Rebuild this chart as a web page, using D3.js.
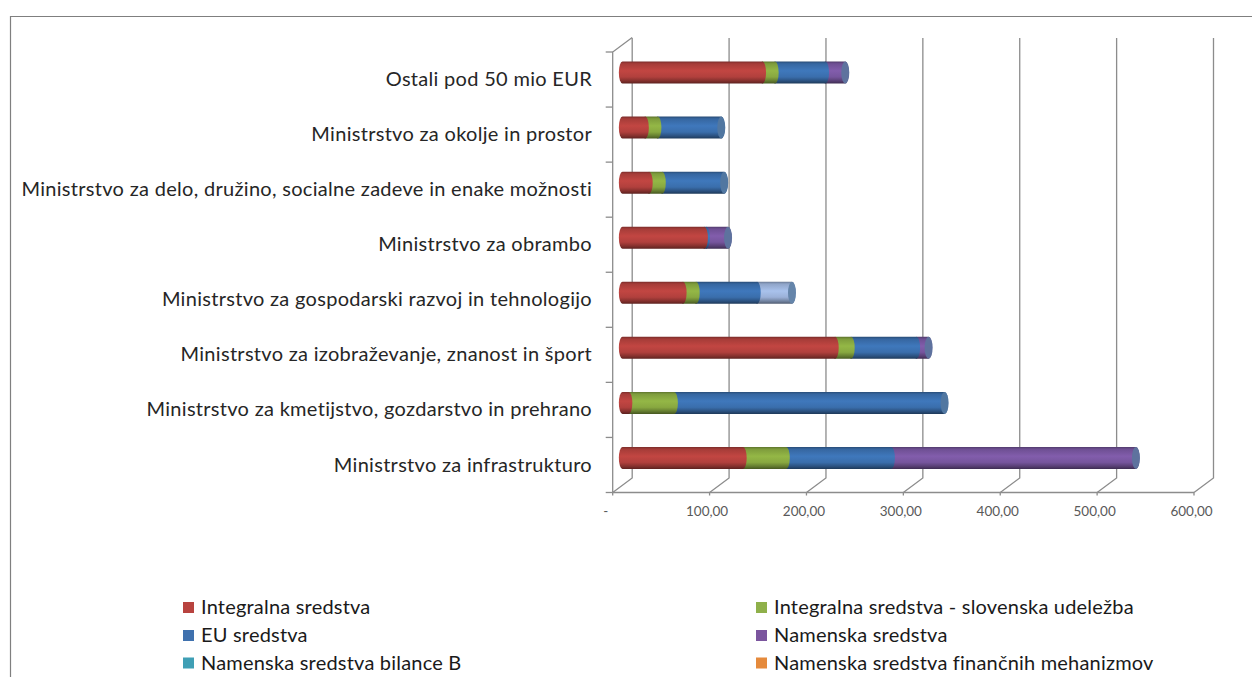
<!DOCTYPE html>
<html><head><meta charset="utf-8">
<script src="https://cdn.jsdelivr.net/npm/d3@7"></script>
<style>html,body{margin:0;padding:0;background:#fff;overflow:hidden}svg{display:block}</style>
</head><body><svg id="c" width="1252" height="677"></svg>
<script>
const categories = ["Ministrstvo za infrastrukturo","Ministrstvo za kmetijstvo, gozdarstvo in prehrano","Ministrstvo za izobraževanje, znanost in šport","Ministrstvo za gospodarski razvoj in tehnologijo","Ministrstvo za obrambo","Ministrstvo za delo, družino, socialne zadeve in enake možnosti","Ministrstvo za okolje in prostor","Ostali pod 50 mio EUR"];
const integralna = [124.5,6.5,219.5,62.5,84.5,27.5,23.5,144.5];
const slovenska  = [44.5,47,16.5,13.5,0,13.5,13,13];
const eu         = [108.5,279,67.5,63,2,64,65.5,52];
const namenska   = [252.5,0,12.5,0,22.5,0,0,20.5];
const bilanceB   = [0,0,0,0,0,0,0,0];
const mehanizmi  = [0,0,0,0,0,0,0,0];
const ostalo     = [0,0,0,36,0,0,0,0];
const seriesNames = ["Integralna sredstva","Integralna sredstva - slovenska udeležba","EU sredstva","Namenska sredstva","Namenska sredstva bilance B","Namenska sredstva finančnih mehanizmov","Ostalo"];
const seriesValues = [integralna,slovenska,eu,namenska,bilanceB,mehanizmi,ostalo];
const seriesColors = ["#bb4440","#8fb144","#3d74b5","#7d5aa6","#4bacc6","#f0903c","#a3bbe4"];
const legendColors = ["#b8433f","#8fb04a","#3f71ae","#7b559e","#3f9fb5","#e58a3c"];
const legendCount = 6;
const xTicks = [0,100,200,300,400,500,600];
const xTickLabels = ["-","100,00","200,00","300,00","400,00","500,00","600,00"];

const svg = d3.select("#c");
const x = d3.scaleLinear().domain([0,600]).range([612.7,1194]);
const y = d3.scaleBand().domain(categories).range([492.5,52]);
const dx = 19.5, dy = 14.5;
const grid = "#8c8c8c";

svg.append("path").attr("d","M10.5,677V16.5H1252").attr("fill","none").attr("stroke","#7f7f7f").attr("stroke-width",1.2);

const walls = svg.append("g").attr("fill","none").attr("stroke",grid).attr("stroke-width",1.3);
walls.selectAll("path.g").data(xTicks).join("path").attr("class","g")
  .attr("d",d=>`M${x(d)},492.5l0,3M${x(d)},492.5l${dx},${-dy}V38`);
walls.append("path").attr("d",`M${x(0)},492.5H${x(600)}`);
walls.append("path").attr("d",`M${x(0)},492.5V52l${dx},${-dy}`);
walls.selectAll("path.t").data(d3.range(9)).join("path").attr("class","t")
  .attr("d",i=>`M${x(0)-7},${492.5-i*y.step()}H${x(0)}`);

const defs = svg.append("defs");
function shade(c,k){return k<0?d3.color(c).darker(-k).formatHex():d3.color(c).brighter(k).formatHex();}
seriesColors.forEach((c,i)=>{
  const g = defs.append("linearGradient").attr("id","g"+i).attr("x1",0).attr("x2",0).attr("y1",0).attr("y2",1);
  [[0,-1.2],[.1,-.35],[.42,.1],[.7,-.15],[.88,-1.0],[1,-2.0]].forEach(([o,k])=>
    g.append("stop").attr("offset",o).attr("stop-color",shade(c,k)));
});

const barH = 22, rx = 3.6, ry = barH/2, ox = dx/2, oy = -7;
const gBars = svg.append("g");
categories.forEach((cat,ci)=>{
  const top = y(cat)+y.bandwidth()/2+oy-barH/2;
  let acc = 0;
  const segs = [];
  seriesValues.forEach((s,si)=>{ if(s[ci]>0){segs.push({si,a:acc,b:acc+s[ci]}); acc+=s[ci];} });
  const g = gBars.append("g");
  g.selectAll("path").data(segs.slice().reverse()).join("path")
    .attr("fill",d=>`url(#g${d.si})`)
    .attr("d",d=>{
      const x0=x(d.a)+ox, x1=x(d.b)+ox;
      return `M${x0},${top}A${rx},${ry} 0 0 0 ${x0},${top+barH}L${x1},${top+barH}A${rx},${ry} 0 0 0 ${x1},${top}Z`;
    });
  g.append("ellipse").attr("cx",x(acc)+ox).attr("cy",top+ry).attr("rx",rx+.4).attr("ry",ry)
    .attr("fill",d3.interpolateRgb(seriesColors[segs[segs.length-1].si],"#56789c")(.8));
});

svg.append("g").selectAll("text").data(xTicks).join("text")
  .attr("x",d=>d===0?x(d)-7:x(d)-2.5).attr("y",513).attr("text-anchor","middle").attr("dominant-baseline","middle")
  .attr("font-family","Lato").attr("font-size",13.5).attr("fill","#595959")
  .text((d,i)=>xTickLabels[i]);
svg.append("g").selectAll("text").data(categories).join("text")
  .attr("x",592).attr("y",d=>y(d)+y.bandwidth()/2+1.5).attr("text-anchor","end").attr("dominant-baseline","middle")
  .attr("font-family","Lato").attr("font-size",20).attr("letter-spacing",.3).attr("fill","#262626")
  .text(d=>d);

const rowY = d3.scaleOrdinal().domain([0,1,2]).range([607.5,635.5,663]);
const colX = [183,756];
const leg = svg.append("g").selectAll("g").data(seriesNames.slice(0,legendCount)).join("g")
  .attr("transform",(d,i)=>`translate(${colX[i%2]},${rowY(Math.floor(i/2))})`);
leg.append("rect").attr("x",0).attr("y",-5.5).attr("width",11).attr("height",11)
  .attr("fill",(d,i)=>legendColors[i]);
leg.append("text").attr("x",18).attr("y",1.5).attr("dominant-baseline","middle")
  .attr("font-family","Lato").attr("font-size",20).attr("letter-spacing",.2).attr("fill","#1a1a1a").text(d=>d);
</script></body></html>
